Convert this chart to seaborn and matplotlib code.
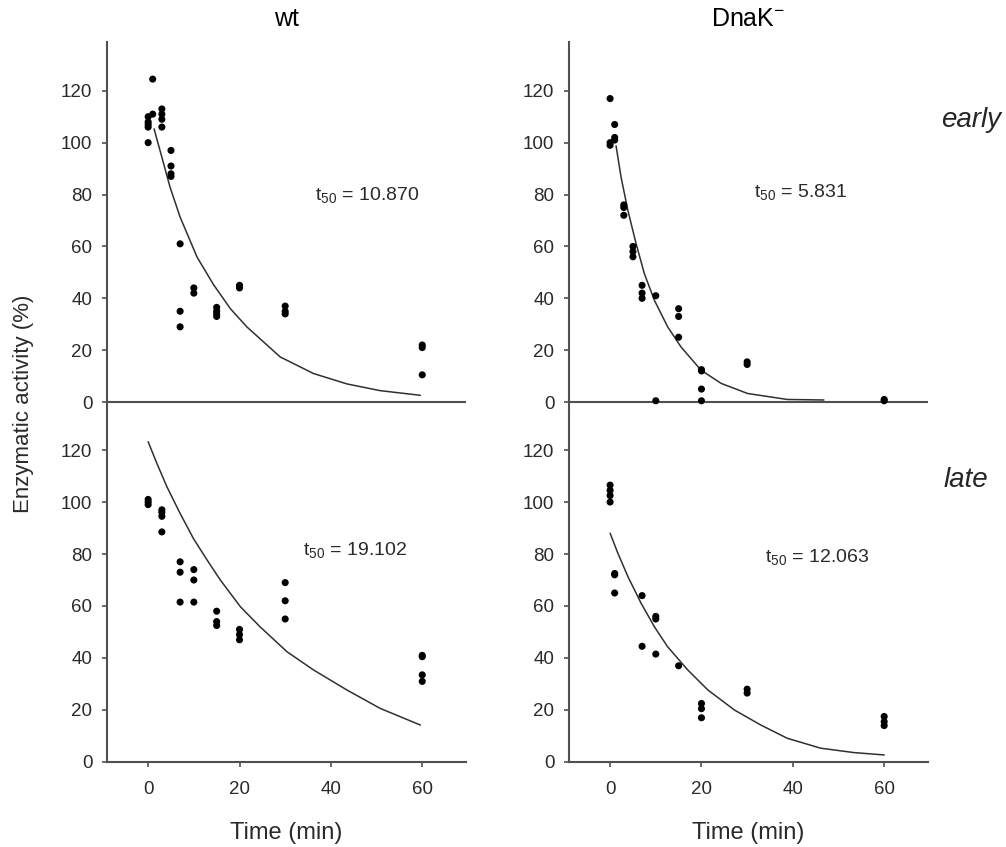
import pandas as pd
import matplotlib
matplotlib.use("Agg")
import matplotlib.pyplot as plt
import seaborn as sns

# --- measured points (time in min, activity in %) ---
wt_early_t = [0, 0, 0, 0, 0, 1, 1, 3, 3, 3, 3, 5, 5, 5, 5, 7, 7, 7, 10, 10, 15, 15, 15, 15, 20, 20, 30, 30, 30, 60, 60, 60]
wt_early_y = [100, 106, 107, 108, 110, 111, 124.5, 113, 111, 109, 106, 97, 91, 88, 87, 61, 35, 29, 44, 42, 36.5, 35, 34, 33, 45, 44, 37, 35, 34, 22, 21, 10.5]

dnak_early_t = [0, 0, 0, 1, 1, 1, 3, 3, 3, 5, 5, 5, 7, 7, 7, 10, 10, 15, 15, 15, 20, 20, 20, 20, 30, 30, 60, 60]
dnak_early_y = [117, 100, 99, 107, 102, 101, 76, 75, 72, 60, 58, 56, 45, 42, 40, 41, 0.5, 36, 33, 25, 12.5, 12, 5, 0.5, 15.5, 14.5, 1, 0.5]

wt_late_t = [0, 0, 0, 3, 3, 3, 3, 7, 7, 7, 10, 10, 10, 15, 15, 15, 20, 20, 20, 30, 30, 30, 60, 60, 60, 60]
wt_late_y = [101, 100, 99, 97, 96, 94.5, 88.5, 77, 73, 61.5, 74, 70, 61.5, 58, 54, 52.5, 51, 49, 47, 69, 62, 55, 41, 40.5, 33.5, 31]

dnak_late_t = [0, 0, 0, 0, 1, 1, 1, 7, 7, 10, 10, 10, 15, 20, 20, 20, 30, 30, 60, 60, 60]
dnak_late_y = [106.5, 104.5, 102.5, 100, 72.5, 72, 65, 64, 44.5, 56, 55, 41.5, 37, 22.5, 20.5, 17, 28, 26.5, 17.5, 15.5, 14]

# --- fitted decay curves ---
wt_early_fit_t = [1.3, 3.0, 4.8, 7.0, 10.7, 14.3, 18.0, 21.6, 28.9, 36.2, 43.5, 50.8, 59.6]
wt_early_fit_y = [105.3, 94.4, 82.8, 71.3, 55.9, 45.3, 36.0, 29.0, 17.4, 11.0, 7.0, 4.4, 2.6]

dnak_early_fit_t = [1.3, 2.4, 3.9, 5.7, 7.5, 9.7, 12.6, 15.5, 19.9, 24.3, 30.1, 38.8, 46.8]
dnak_early_fit_y = [98.8, 86.7, 73.8, 61.0, 49.5, 39.2, 29.0, 21.3, 12.3, 7.2, 3.3, 1.0, 0.8]

wt_late_fit_t = [0, 1.9, 4.1, 7.0, 9.9, 12.9, 15.8, 20.2, 24.5, 30.4, 36.2, 43.5, 50.8, 59.6]
wt_late_fit_y = [123.2, 114.9, 105.9, 95.6, 86.0, 77.7, 70.0, 59.7, 52.0, 42.4, 35.4, 27.7, 20.6, 14.2]

dnak_late_fit_t = [0, 1.7, 3.9, 6.8, 9.7, 12.6, 17.0, 21.4, 27.2, 33.0, 38.8, 46.1, 53.4, 60.0]
dnak_late_fit_y = [88.0, 80.3, 71.3, 61.0, 52.0, 44.3, 35.4, 27.7, 20.0, 14.2, 9.1, 5.3, 3.6, 2.7]

t50_labels = ["10.870", "5.831", "19.102", "12.063"]
col_titles = ["wt", "DnaK$^{-}$"]
row_titles = ["early", "late"]
y_ticks = [0, 20, 40, 60, 80, 100, 120]
x_ticks = [0, 20, 40, 60]

sns.set_theme(style="ticks")
plt.rcParams["font.family"] = ["Liberation Sans", "DejaVu Sans"]
plt.rcParams["mathtext.default"] = "regular"

panels = [
    (wt_early_t, wt_early_y, wt_early_fit_t, wt_early_fit_y),
    (dnak_early_t, dnak_early_y, dnak_early_fit_t, dnak_early_fit_y),
    (wt_late_t, wt_late_y, wt_late_fit_t, wt_late_fit_y),
    (dnak_late_t, dnak_late_y, dnak_late_fit_t, dnak_late_fit_y),
]
# where each t50 label starts (data coords)
label_pos = [(36.5, 80), (31.5, 81), (34, 81.5), (34, 79)]

fig = plt.figure(figsize=(10.06, 8.47), dpi=100)
lefts = [0.1064, 0.5656]
width = 0.3569
bottoms = [0.51, 0.1004]
heights = [0.4404, 0.4097]
axis_col = "#505050"
text_col = "#2a2a2a"

for i, (t, y, ft, fy) in enumerate(panels):
    row, col = divmod(i, 2)
    ax = fig.add_axes([lefts[col], bottoms[row], width, heights[row]])
    pts = pd.DataFrame({"t": t, "y": y})
    fit = pd.DataFrame({"t": ft, "y": fy})
    sns.lineplot(data=fit, x="t", y="y", ax=ax, color="#303030", lw=1.1,
                 sort=False, estimator=None)
    sns.scatterplot(data=pts, x="t", y="y", ax=ax, color="black", s=26,
                    edgecolor="none", zorder=3)
    ax.set_xlim(-9, 69.6)
    ax.set_yticks(y_ticks)
    ax.set_xlabel("")
    ax.set_ylabel("")
    for side in ["top", "right"]:
        ax.spines[side].set_visible(False)
    ax.spines["left"].set_color(axis_col)
    ax.spines["left"].set_linewidth(1.5)
    ax.tick_params(axis="both", colors=axis_col, labelcolor=text_col,
                   labelsize=13.5, length=3.5, width=1.2, direction="out")
    ax.tick_params(axis="y", pad=7)
    if row == 0:
        ax.set_ylim(-5, 138.8)
        ax.spines["bottom"].set_visible(False)
        ax.set_xticks([])
        ax.axhline(0, color=axis_col, lw=1.5)
    else:
        ax.set_ylim(0, 133.5)
        ax.spines["bottom"].set_color(axis_col)
        ax.spines["bottom"].set_linewidth(1.5)
        ax.set_xticks(x_ticks)
        ax.tick_params(axis="x", pad=10)
    lx, ly = label_pos[i]
    ax.text(lx, ly, "t$_{50}$ = " + t50_labels[i], fontsize=14,
            color=text_col, va="center", ha="left")

for col, title in enumerate(col_titles):
    cx = lefts[col] + width / 2
    fig.text(cx, 0.977, title, fontsize=18, ha="center", va="center",
             color="black")
    fig.text(cx, 0.0165, "Time (min)", fontsize=17, ha="center",
             va="center", color=text_col)
fig.text(0.935, 1 - 127 / 847, row_titles[0], fontsize=20, style="italic",
         ha="left", va="baseline")
fig.text(0.938, 1 - 487 / 847, row_titles[1], fontsize=20, style="italic",
         ha="left", va="baseline")
fig.text(0.023, 1 - 404 / 847, "Enzymatic activity (%)", fontsize=16,
         rotation=90, ha="center", va="center", color=text_col)

plt.savefig("out.png", dpi=100)
